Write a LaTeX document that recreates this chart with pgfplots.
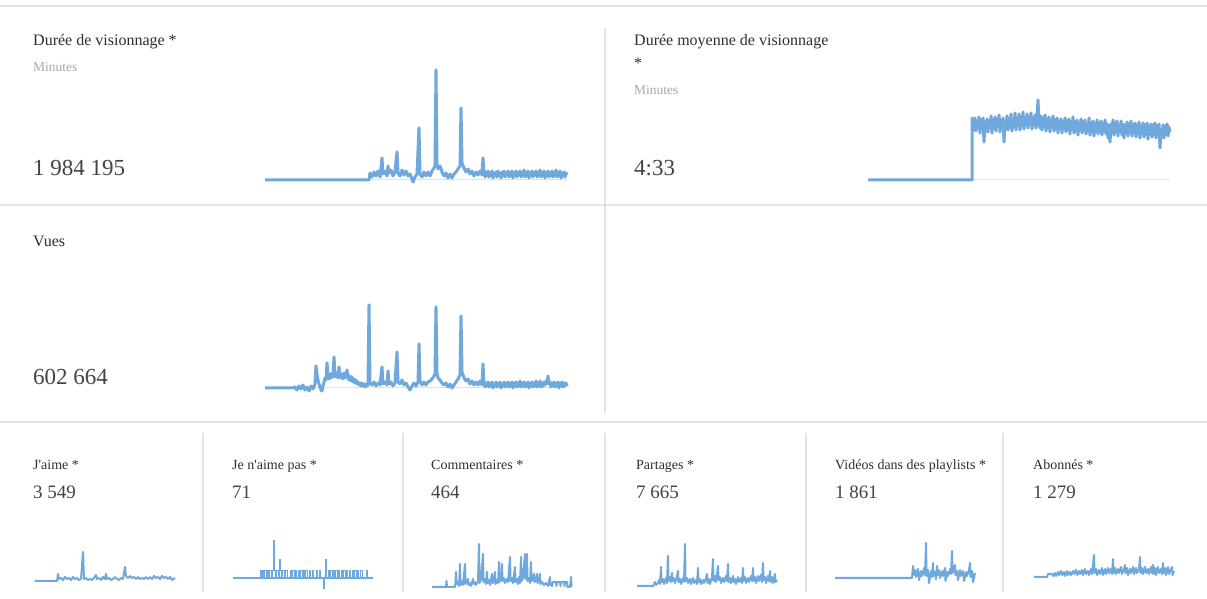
\documentclass[border=0pt]{standalone}
\usepackage{pgfplots}
\pgfplotsset{compat=1.18}
\usepackage{fontspec}
\setmainfont{Liberation Serif}[Ligatures=TeXOff]
\definecolor{spark}{HTML}{6FA8DC}
\definecolor{sep}{HTML}{E4E4E4}
\definecolor{base}{HTML}{E0E0E0}
\definecolor{ttl}{HTML}{2E2E2E}
\definecolor{num}{HTML}{444444}
\definecolor{sub}{HTML}{A8A8A8}
\pgfplotsset{
  spark/.style={hide axis, x=1pt, y=1pt, xmin=0, ymin=0, enlargelimits=false, clip=false, anchor=south west},
  sl/.style={draw=spark, line width=3pt, line join=round, mark=none},
  ss/.style={draw=spark, line width=2pt, line join=round, mark=none},
  bl/.style={draw=base, line width=1pt, mark=none}
}
\newcommand{\ttlA}{\fontsize{16}{19}\selectfont\color{ttl}}
\newcommand{\ttlB}{\fontsize{14}{17}\selectfont\color{ttl}}
\newcommand{\numA}{\fontsize{23}{27}\selectfont\color{num}}
\newcommand{\numB}{\fontsize{19}{23}\selectfont\color{num}}
\newcommand{\subA}{\fontsize{13.5}{16}\selectfont\color{sub}}
\begin{document}
\begin{tikzpicture}[x=1pt,y=1pt]
\path[use as bounding box, fill=white] (0pt,0pt) rectangle (1207pt,599pt);
% separators
\draw[sep, line width=2pt] (0pt,593pt) -- (1207pt,593pt);
\draw[sep, line width=2pt] (0pt,394pt) -- (1207pt,394pt);
\draw[sep, line width=2pt] (0pt,177pt) -- (1207pt,177pt);
\draw[sep, line width=2pt] (605pt,571pt) -- (605pt,186pt);
\foreach \xx in {203,403,605,806,1003} {\draw[sep, line width=2pt] (\xx pt,166pt) -- (\xx pt,7pt);}
% texts
\node[anchor=base west, inner sep=0] at (33pt,553pt) {\ttlA Durée de visionnage *};
\node[anchor=base west, inner sep=0] at (33pt,527pt) {\subA Minutes};
\node[anchor=base west, inner sep=0] at (33pt,423pt) {\numA 1 984 195};
\node[anchor=base west, inner sep=0] at (634pt,553pt) {\ttlA Durée moyenne de visionnage};
\node[anchor=base west, inner sep=0] at (634pt,530pt) {\ttlA *};
\node[anchor=base west, inner sep=0] at (634pt,504pt) {\subA Minutes};
\node[anchor=base west, inner sep=0] at (634pt,423pt) {\numA 4:33};
\node[anchor=base west, inner sep=0] at (33pt,352pt) {\ttlA Vues};
\node[anchor=base west, inner sep=0] at (33pt,214pt) {\numA 602 664};
\node[anchor=base west, inner sep=0] at (33pt,129pt) {\ttlB J'aime *};
\node[anchor=base west, inner sep=0] at (33pt,100pt) {\numB 3 549};
\node[anchor=base west, inner sep=0] at (232pt,129pt) {\ttlB Je n'aime pas *};
\node[anchor=base west, inner sep=0] at (232pt,100pt) {\numB 71};
\node[anchor=base west, inner sep=0] at (431pt,129pt) {\ttlB Commentaires *};
\node[anchor=base west, inner sep=0] at (431pt,100pt) {\numB 464};
\node[anchor=base west, inner sep=0] at (636pt,129pt) {\ttlB Partages *};
\node[anchor=base west, inner sep=0] at (636pt,100pt) {\numB 7 665};
\node[anchor=base west, inner sep=0] at (835pt,129pt) {\ttlB Vidéos dans des playlists *};
\node[anchor=base west, inner sep=0] at (835pt,100pt) {\numB 1 861};
\node[anchor=base west, inner sep=0] at (1033pt,129pt) {\ttlB Abonnés *};
\node[anchor=base west, inner sep=0] at (1033pt,100pt) {\numB 1 279};
% Durée de visionnage
\begin{axis}[spark, at={(265pt,419pt)}, xmax=302, ymax=110]
\addplot[bl] coordinates {(0,0)(302,0)};
\addplot[sl] coordinates {(0,0)(104,0)(105,7)(107,3)(109,8)(111,4)(113,9)(115,3)(117,22)(118,6)(120,9)(122,4)(123,14)(124,7)(126,10)(128,4)(130,8)(132,28)(133,7)(135,4)(137,10)(139,5)(141,9)(143,4)(145,6)(147,1)(148,-2)(150,3)(152,6)(154,52)(155,6)(157,3)(159,8)(161,4)(163,8)(165,4)(167,9)(169,12)(170,15)(171,110)(172,16)(173,11)(175,14)(177,8)(179,4)(181,7)(183,2)(185,6)(187,2)(189,6)(191,8)(193,11)(195,14)(196,72)(197,17)(199,12)(201,8)(203,11)(205,6)(207,9)(209,4)(211,8)(213,5)(215,9)(217,5)(218,22)
(219,7)(220,3)(221,8)(222,4)(223,9)(224,3)(225,7)(226,4)(227,9)(228,2)(229,7)(230,4)(231,8)(232,3)(233,9)(234,4)(235,7)(236,2)(237,8)(238,4)(239,9)(240,3)(241,7)(242,5)(243,9)(244,3)(245,8)(246,4)(247,9)(248,2)(249,7)(250,4)(251,9)(252,3)(253,8)(254,5)(255,9)(256,3)(257,7)(258,4)(259,10)(260,3)(261,8)(262,4)(263,9)(264,2)(265,7)(266,4)(267,9)(268,3)(269,8)(270,5)(271,9)(272,3)(273,7)(274,4)(275,10)(276,3)(277,8)(278,4)(279,9)(280,2)(281,7)(282,4)(283,9)(284,3)(285,8)(286,4)(287,9)(288,3)(289,7)(290,4)(291,10)(292,3)(293,8)(294,4)(295,9)(296,2)(297,7)(298,4)(299,8)(300,3)(301,7)(302,5)};
\end{axis}
% Durée moyenne
\begin{axis}[spark, at={(868pt,419pt)}, xmax=302, ymax=80]
\addplot[bl] coordinates {(0,0)(302,0)};
\addplot[sl] coordinates {(0,0)(104,0)(104,62)(105,60)(106,50)(107,62)(108,49)(109,58)(110,52)(111,63)(112,47)(113,60)(114,51)(115,62)(116,38)(117,58)(118,50)(119,61)(120,48)(121,59)(122,53)(123,64)(124,47)(125,60)(126,52)(127,63)(128,49)(129,61)(130,54)(131,65)(132,48)(133,60)(134,52)(135,62)(136,38)(137,57)(138,51)(139,64)(140,50)(141,61)(142,53)(143,66)(144,49)(145,60)(146,54)(147,67)(148,50)(149,62)(150,55)(151,66)(152,50)(153,63)(154,54)(155,68)(156,51)(157,62)(158,55)(159,66)(160,52)(161,63)(162,56)(163,67)(164,51)(165,62)(166,55)(167,65)(168,52)(169,63)(170,80)(171,57)(172,52)(173,64)(174,50)(175,62)(176,53)(177,65)(178,49)(179,61)(180,52)(181,63)(182,48)(183,60)(184,53)(185,64)(186,49)(187,60)(188,51)(189,62)(190,47)(191,59)(192,52)(193,61)(194,47)(195,58)(196,51)(197,62)(198,48)(199,59)(200,50)(201,61)(202,46)(203,58)(204,51)(205,63)(206,47)(207,58)(208,49)(209,60)(210,45)(211,57)(212,50)(213,61)(214,47)(215,58)(216,49)(217,60)(218,46)(219,56)(220,49)(221,62)(222,45)(223,57)(224,48)(225,59)(226,44)(227,56)(228,49)(229,60)(230,46)(231,57)(232,48)(233,59)(234,45)(235,56)(236,49)(237,60)(238,46)(239,56)(240,42)(241,55)(242,38)(243,56)(244,47)(245,60)(246,45)(247,57)(248,48)(249,59)(250,44)(251,55)(252,48)(253,59)(254,45)(255,56)(256,42)(257,55)(258,47)(259,58)(260,44)(261,56)(262,48)(263,59)(264,44)(265,55)(266,47)(267,57)(268,43)(269,55)(270,46)(271,58)(272,42)(273,54)(274,47)(275,57)(276,43)(277,55)(278,46)(279,57)(280,41)(281,54)(282,46)(283,56)(284,43)(285,55)(286,46)(287,57)(288,42)(289,54)(290,45)(291,56)(292,32)(293,50)(294,45)(295,55)(296,42)(297,54)(298,46)(299,56)(300,44)(301,53)(302,48)};
\end{axis}
% Vues
\begin{axis}[spark, at={(265pt,211pt)}, xmax=302, ymax=83]
\addplot[bl] coordinates {(0,0)(302,0)};
\addplot[sl] coordinates {(0,0)(28,0)(30,1)(32,-2)(34,2)(36,-1)(38,3)(40,-2)(42,1)(44,-3)(46,2)(48,-1)(50,4)(51,22)(52,14)(53,8)(54,4)(55,1)(56,-2)(57,-3)(58,2)(59,6)(60,10)(61,8)(62,25)(63,12)(64,9)(65,14)(66,10)(67,15)(68,11)(69,31)(70,14)(71,11)(72,15)(73,10)(74,21)(75,13)(76,10)(77,14)(78,9)(79,15)(80,10)(81,13)(82,18)(83,11)(84,8)(85,12)(86,7)(87,11)(88,6)(89,9)(90,5)(91,8)(92,4)(93,6)(94,3)(95,5)(96,2)(97,5)(98,2)(99,4)(100,1)(101,4)(102,2)(103,3)(104,83)(105,5)(107,3)(109,6)(111,2)(113,5)(115,3)(117,21)(118,4)(120,6)(122,3)(123,17)(124,4)(126,6)(128,2)(130,5)(132,36)(133,6)(135,4)(137,8)(139,3)(141,5)(143,1)(145,-2)(147,2)(149,5)(151,2)(153,6)(154,44)(155,7)(157,3)(159,6)(161,3)(163,6)(165,7)(167,9)(169,12)(170,14)(171,81)(172,15)(173,10)(175,8)(177,5)(179,3)(181,5)(183,1)(185,4)(187,0)(189,3)(191,6)(193,9)(195,13)(196,72)(197,16)(199,10)(201,7)(203,9)(205,4)(207,7)(209,3)(211,6)(213,3)(215,7)(217,3)(218,24)
(219,5)(220,1)(221,5)(222,2)(223,6)(224,1)(225,5)(226,2)(227,6)(228,0)(229,4)(230,2)(231,6)(232,1)(233,5)(234,2)(235,6)(236,0)(237,4)(238,2)(239,6)(240,1)(241,5)(242,2)(243,6)(244,1)(245,5)(246,2)(247,6)(248,0)(249,5)(250,2)(251,6)(252,1)(253,5)(254,2)(255,7)(256,1)(257,5)(258,2)(259,6)(260,1)(261,5)(262,2)(263,6)(264,0)(265,5)(266,2)(267,6)(268,1)(269,5)(270,2)(271,7)(272,1)(273,5)(274,2)(275,7)(276,1)(277,5)(278,2)(279,6)(280,3)(281,7)(282,4)(283,12)(284,4)(285,6)(286,1)(287,5)(288,2)(289,6)(290,1)(291,5)(292,2)(293,6)(294,0)(295,5)(296,2)(297,6)(298,1)(299,5)(300,2)(301,5)(302,2)};
\end{axis}
% J'aime
\begin{axis}[spark, at={(35pt,18pt)}, xmax=140, ymax=29]
\addplot[ss] coordinates {(0,0)(22,0)(23,7)(24,2)(26,3)(28,1)(30,4)(32,2)(34,3)(36,1)(38,4)(40,2)(42,3)(44,1)(46,2)(48,29)(49,2)(51,3)(53,1)(55,2)(57,1)(59,3)(61,6)(62,2)(64,3)(66,1)(68,4)(70,2)(71,7)(72,2)(74,3)(76,1)(78,2)(80,4)(82,2)(84,1)(86,3)(88,2)(90,14)(91,5)(93,3)(95,5)(97,3)(99,4)(101,2)(103,4)(105,2)(107,3)(109,2)(111,4)(113,2)(115,4)(117,2)(119,5)(121,3)(123,4)(125,2)(127,5)(129,3)(131,4)(133,2)(135,4)(137,1)(140,3)};
\end{axis}
% Je n'aime pas
\begin{axis}[spark, at={(233pt,21pt)}, xmax=140, ymax=38]
\addplot[draw=spark, line width=2pt] coordinates {(0,0)(140,0)};
\addplot[draw=spark, line width=0.9pt, const plot, mark=none] coordinates {(0,0)(27,8)(28,0)(29,8)(30,0)(31,8)(33,0)(34,8)(35,0)(36,8)(38,0)(39,8)(40,38)(41,8)(42,0)(43,8)(45,0)(46,19)(47,8)(48,0)(49,8)(51,0)(52,8)(54,0)(57,8)(58,0)(59,8)(61,0)(62,8)(63,0)(65,8)(66,0)(67,8)(69,0)(70,8)(71,0)(72,8)(74,0)(76,8)(77,0)(79,8)(80,0)(83,8)(84,0)(86,8)(87,0)(90,-10)(91,0)(92,19)(93,0)(95,8)(96,0)(97,8)(99,0)(100,8)(101,0)(102,8)(104,0)(105,8)(106,0)(108,8)(109,0)(110,8)(112,0)(113,8)(114,0)(116,8)(117,0)(119,8)(120,0)(121,8)(123,0)(124,8)(125,0)(127,8)(129,0)(133,8)(134,0)(140,0)};
\end{axis}
% Commentaires
\begin{axis}[spark, at={(432pt,12pt)}, xmax=140, ymax=43]
\addplot[ss] coordinates {(0,0)(14,0)(14.5,6)(15,0)(23,0)(23.5,4)(24,15)(24.5,3)(26,5)(27,1)(28,23)(28.5,2)(30,6)(31,2)(33,23)(33.5,3)(35,5)(36,8)(36.5,2)(38,4)(39,1)(41,8)(41.5,3)(43,5)(44,2)(46,6)(47,43)(47.5,4)(49,7)(51,33)(51.5,5)(53,8)(54,3)(55,15)(55.5,4)(57,7)(58,2)(60,13)(60.5,4)(62,6)(63,15)(63.5,3)(65,7)(66,4)(67,25)(67.5,5)(69,8)(70,23)(70.5,6)(72,9)(73,4)(75,8)(76,5)(78,30)(78.5,6)(80,9)(81,4)(83,20)(83.5,5)(85,8)(86,3)(87,10)(88,4)(89,30)(89.5,6)(91,9)(93,33)(93.5,8)(95,33)(95.5,6)(97,9)(98,4)(99,25)(99.5,6)(101,8)(102,13)(102.5,5)(104,7)(105,13)(105.5,4)(107,6)(108,13)(108.5,3)(110,5)(112,2)(114,4)(116,1)(118,10)(118.5,2)(120,1)(121,5)(124,5)(124.5,1)(125,5)(128,5)(128.5,1)(129,5)(132,5)(132.5,1)(133,5)(135,5)(135.5,0)(138,0)(139,10)(139.5,1)(140,2)};
\end{axis}
% Partages
\begin{axis}[spark, at={(637pt,13pt)}, xmax=140, ymax=42]
\addplot[ss] coordinates {(0,0)(16,0)(18,4)(19,1)(21,3)(22,6)(23,2)(24,19)(24.5,4)(26,7)(27,2)(29,8)(30,3)(31,30)(31.5,5)(33,9)(34,4)(35,13)(35.5,5)(37,8)(38,3)(40,9)(41,15)(41.5,4)(43,7)(44,2)(46,8)(47,4)(48,42)(48.5,5)(50,8)(51,3)(53,7)(54,2)(56,8)(57,3)(59,6)(60,2)(61,18)(61.5,4)(63,7)(64,2)(66,6)(67,3)(69,8)(70,12)(70.5,3)(72,7)(73,2)(75,9)(76,27)(76.5,5)(78,10)(79,4)(81,20)(81.5,6)(83,9)(84,3)(86,8)(87,4)(89,10)(90,5)(91,22)(91.5,4)(93,8)(94,3)(96,10)(96.5,4)(98,7)(99,2)(101,9)(102,4)(104,8)(105,3)(106,18)(106.5,5)(108,9)(109,3)(111,8)(112,4)(114,10)(115,5)(116,18)(116.5,5)(118,9)(119,3)(121,10)(122,5)(124,11)(125,4)(126,23)(126.5,6)(128,9)(129,3)(131,10)(132,5)(133,15)(133.5,4)(135,9)(136,3)(138,12)(138.5,4)(140,6)};
\end{axis}
% Videos dans des playlists
\begin{axis}[spark, at={(835pt,21pt)}, xmax=140, ymax=35]
\addplot[ss] coordinates {(0,0)(77,0)(78,12)(78.5,3)(80,8)(81,1)(83,9)(84,-2)(86,7)(87,2)(89,10)(90,3)(91,35)(91.5,2)(93,8)(94,-5)(96,7)(97,1)(98,15)(98.5,2)(100,6)(101,-1)(102,12)(102.5,3)(104,8)(105,0)(107,7)(108,2)(110,10)(110.5,-3)(112,6)(113,2)(115,9)(116,4)(117,27)(117.5,5)(119,9)(120,13)(120.5,3)(122,7)(123,-2)(125,8)(126,2)(128,7)(129,-3)(131,6)(132,2)(134,8)(135,15)(135.5,1)(137,7)(138,-4)(140,5)};
\end{axis}
% Abonnes
\begin{axis}[spark, at={(1034pt,22pt)}, xmax=140, ymax=22]
\addplot[ss] coordinates {(0,0)(13,0)(14,3)(18,3)(19,1)(21,4)(22,1)(24,5)(25,2)(27,6)(28,2)(30,5)(31,1)(33,6)(34,2)(36,5)(37,2)(39,6)(40,3)(42,7)(43,2)(45,6)(46,3)(48,7)(49,2)(51,8)(52,3)(54,6)(55,2)(57,8)(58,3)(60,22)(60.5,4)(62,8)(63,2)(65,7)(66,3)(68,9)(69,2)(71,8)(72,3)(74,9)(75,4)(77,8)(78,3)(79,18)(79.5,4)(81,9)(82,3)(84,8)(85,4)(87,10)(88,3)(90,8)(91,12)(91.5,4)(93,9)(94,2)(96,8)(97,4)(99,10)(100,3)(102,9)(103,4)(105,8)(106,20)(106.5,4)(108,9)(109,3)(111,10)(112,4)(114,8)(115,3)(117,10)(118,4)(119,12)(119.5,3)(121,9)(122,2)(124,10)(125,4)(127,8)(128,3)(129,14)(129.5,4)(131,9)(132,2)(134,10)(135,3)(137,8)(138,10)(138.5,2)(140,6)};
\end{axis}
\end{tikzpicture}
\end{document}
